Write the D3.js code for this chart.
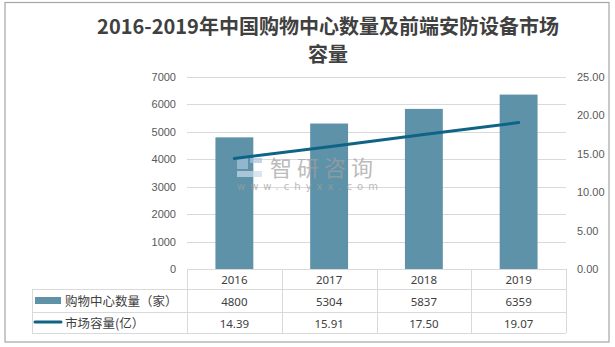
<!DOCTYPE html>
<html><head><meta charset="utf-8">
<script src="https://cdn.jsdelivr.net/npm/d3@7/dist/d3.min.js"></script>
<style>
html,body{margin:0;padding:0;background:#fff;}
svg{display:block;}
</style></head>
<body>
<svg id="c" width="615" height="347"></svg>
<script>
const titleLines = ["2016-2019年中国购物中心数量及前端安防设备市场", "容量"];
const years = ["2016", "2017", "2018", "2019"];
const mallCounts = [4800, 5304, 5837, 6359];
const marketSize = [14.39, 15.91, 17.50, 19.07];
const leftTicks = [0, 1000, 2000, 3000, 4000, 5000, 6000, 7000];
const rightTicks = [0, 5, 10, 15, 20, 25];
const seriesNames = ["购物中心数量（家）", "市场容量(亿）"];

const barColor = "#5E92A9";
const lineColor = "#0F6485";
const gridColor = "#D9D9D9";
const textColor = "#595959";

const svg = d3.select("#c");
const L = 187, R = 566, T = 77, B = 269;

// outer border
svg.append("rect").attr("x", 5).attr("y", 2.5).attr("width", 604).attr("height", 339.5)
  .attr("fill", "#fff").attr("stroke", "#A6A6A6").attr("stroke-width", 1.2);

// title
const title = svg.append("text").attr("text-anchor", "middle")
  .attr("font-family", "'Noto Sans CJK SC', sans-serif").attr("font-weight", "bold")
  .attr("font-size", 20).attr("fill", "#404040");
title.append("tspan").attr("x", 328).attr("y", 34).text(titleLines[0]);
title.append("tspan").attr("x", 328).attr("y", 62).text(titleLines[1]);

const x = d3.scaleBand().domain(years).range([L, R]).paddingInner(0.6).paddingOuter(0.3);
const yL = d3.scaleLinear().domain([0, 7000]).range([B, T]);
const yR = d3.scaleLinear().domain([0, 25]).range([B, T]);

// gridlines
svg.append("g").selectAll("line").data(leftTicks.filter(d => d > 0)).join("line")
  .attr("x1", L).attr("x2", R).attr("y1", d => Math.round(yL(d)) + 0.5).attr("y2", d => Math.round(yL(d)) + 0.5)
  .attr("stroke", gridColor).attr("stroke-width", 1);

// bars
svg.append("g").selectAll("rect").data(years).join("rect")
  .attr("x", d => x(d)).attr("width", x.bandwidth())
  .attr("y", (d, i) => yL(mallCounts[i])).attr("height", (d, i) => B - yL(mallCounts[i]))
  .attr("fill", barColor);

// watermark (overlay)
const wm = svg.append("g").attr("opacity", 0.7);
wm.append("rect").attr("x", 237).attr("y", 158).attr("width", 11).attr("height", 11).attr("fill", "#A9C6DD");
wm.append("rect").attr("x", 250).attr("y", 158).attr("width", 12).attr("height", 5).attr("fill", "#A9C6DD");
wm.append("rect").attr("x", 237).attr("y", 171).attr("width", 25).attr("height", 6).attr("fill", "#C9DCEB");
wm.append("text").attr("x", 270).attr("y", 175.5).attr("font-family", "'Noto Sans CJK SC', sans-serif")
  .attr("font-size", 22).attr("letter-spacing", 5).attr("fill", "#A0A0A0").text("智研咨询");
wm.append("text").attr("x", 237).attr("y", 190).attr("font-family", "'DejaVu Sans', sans-serif")
  .attr("font-size", 10).attr("letter-spacing", 5).attr("fill", "#A0A0A0").text("www.chyxx.com");

// line
const line = d3.line().x((d, i) => x(years[i]) + x.bandwidth() / 2).y(d => yR(d));
svg.append("path").datum(marketSize).attr("d", line).attr("fill", "none")
  .attr("stroke", lineColor).attr("stroke-width", 3).attr("stroke-linecap", "round");

// axes
const leftAxis = d3.axisLeft(yL).tickValues(leftTicks).tickSize(0).tickPadding(11).tickFormat(d3.format("d"));
const gL = svg.append("g").attr("transform", `translate(${L},0)`).call(leftAxis);
gL.select(".domain").remove();
gL.selectAll("text").attr("font-family", "'Liberation Sans', Arial, sans-serif").attr("font-size", 11).attr("fill", textColor);

const rightAxis = d3.axisRight(yR).tickValues(rightTicks).tickSize(0).tickPadding(11).tickFormat(d3.format(".2f"));
const gR = svg.append("g").attr("transform", `translate(${R},0)`).call(rightAxis);
gR.select(".domain").remove();
gR.selectAll("text").attr("font-family", "'Liberation Sans', Arial, sans-serif").attr("font-size", 11).attr("fill", textColor);

// data table
const rowY = [269, 289, 312, 333];
const tbl = svg.append("g").attr("stroke", gridColor).attr("stroke-width", 1);
tbl.append("line").attr("x1", L).attr("x2", R).attr("y1", rowY[0] + 0.5).attr("y2", rowY[0] + 0.5);
[1, 2, 3].forEach(r => tbl.append("line").attr("x1", 32).attr("x2", R).attr("y1", rowY[r] + 0.5).attr("y2", rowY[r] + 0.5));
const cols = [L].concat(years.map(d => x(d) - x.step() * 0.3 + x.step()));
cols.forEach(cx => tbl.append("line").attr("x1", Math.round(cx) + 0.5).attr("x2", Math.round(cx) + 0.5).attr("y1", rowY[0]).attr("y2", rowY[3]));
tbl.append("line").attr("x1", 32.5).attr("x2", 32.5).attr("y1", rowY[1]).attr("y2", rowY[3]);

const cellFont = "'Noto Sans', 'Open Sans', sans-serif";
const cellText = (vals, yy) => svg.append("g").selectAll("text").data(vals).join("text")
  .attr("x", (d, i) => x(years[i]) + x.bandwidth() / 2).attr("y", yy)
  .attr("text-anchor", "middle").attr("dominant-baseline", "central")
  .attr("font-family", cellFont).attr("font-size", 11.5).attr("fill", "#404040").text(d => d);
cellText(years, 279.5);
cellText(mallCounts.map(d3.format("d")), 301);
cellText(marketSize.map(d3.format(".2f")), 323);

// legend keys
svg.append("rect").attr("x", 35).attr("y", 297).attr("width", 26).attr("height", 7).attr("fill", barColor);
svg.append("line").attr("x1", 35).attr("x2", 61).attr("y1", 322).attr("y2", 322)
  .attr("stroke", lineColor).attr("stroke-width", 3).attr("stroke-linecap", "round");
svg.append("g").selectAll("text").data(seriesNames).join("text")
  .attr("x", 65).attr("y", (d, i) => [300.5, 322.5][i]).attr("dominant-baseline", "central")
  .attr("font-family", "'Noto Sans CJK SC', sans-serif").attr("font-size", 12.5).attr("fill", "#404040")
  .text(d => d);
</script>
</body></html>
